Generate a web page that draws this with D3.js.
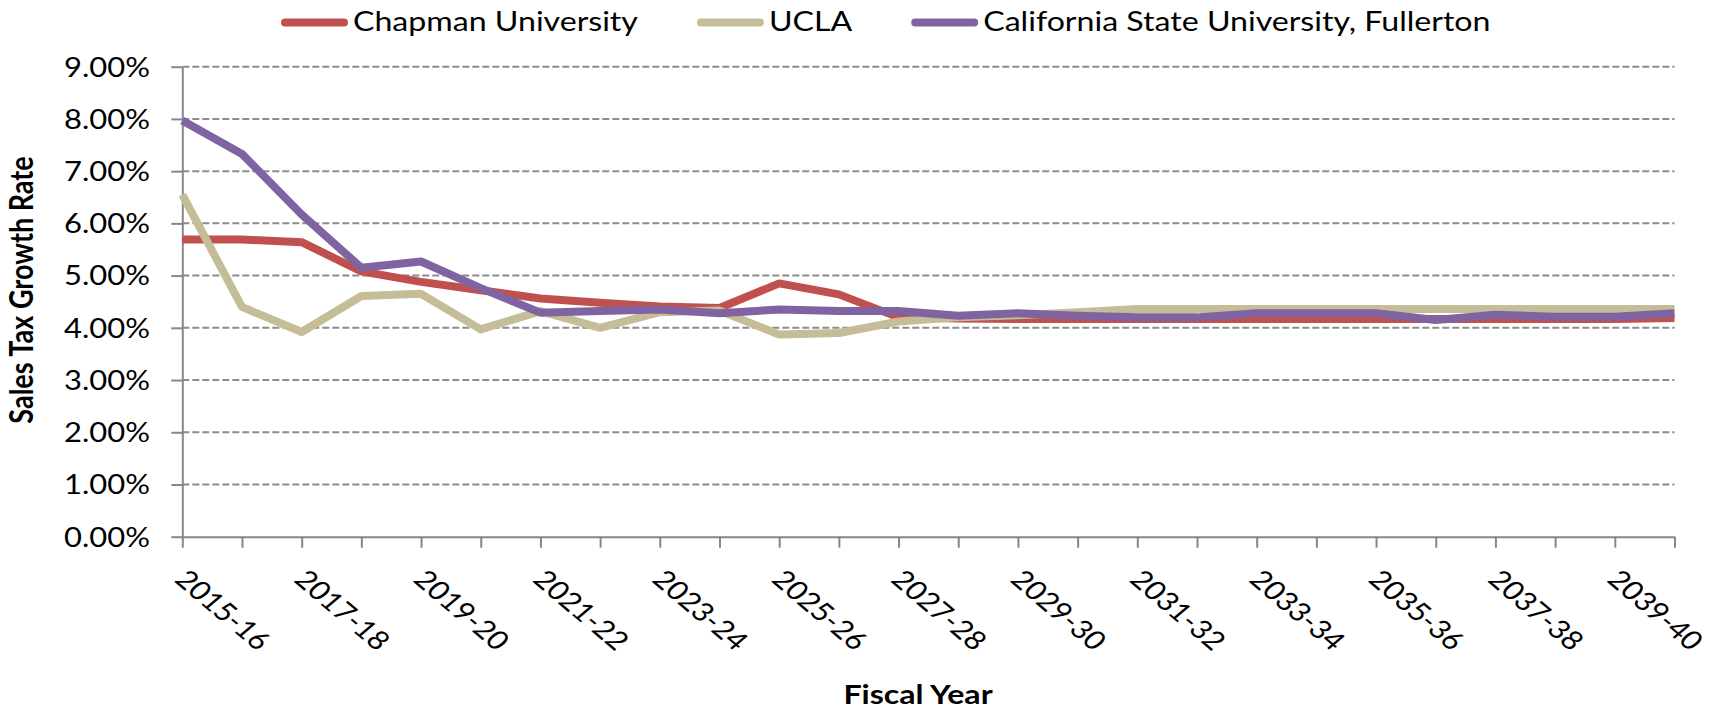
<!DOCTYPE html>
<html><head><meta charset="utf-8">
<script src="https://cdn.jsdelivr.net/npm/d3@7"></script>
<style>html,body{margin:0;padding:0;background:#fff;} svg{display:block;}</style>
</head><body>
<svg id="chart" width="1713" height="708"></svg>
<script>
const categories = ["2015-16","2016-17","2017-18","2018-19","2019-20","2020-21","2021-22","2022-23","2023-24","2024-25","2025-26","2026-27","2027-28","2028-29","2029-30","2030-31","2031-32","2032-33","2033-34","2034-35","2035-36","2036-37","2037-38","2038-39","2039-40","2040-41"];
const chapman = [5.69,5.69,5.64,5.08,4.88,4.72,4.56,4.48,4.41,4.38,4.85,4.64,4.20,4.18,4.17,4.17,4.17,4.17,4.17,4.17,4.17,4.17,4.17,4.17,4.17,4.19];
const ucla    = [6.55,4.40,3.92,4.61,4.65,3.97,4.32,4.00,4.30,4.33,3.87,3.90,4.12,4.20,4.24,4.30,4.36,4.36,4.36,4.36,4.36,4.36,4.36,4.36,4.36,4.36];
const csuf    = [7.97,7.33,6.17,5.15,5.27,4.76,4.29,4.32,4.35,4.28,4.35,4.32,4.32,4.23,4.28,4.23,4.20,4.20,4.28,4.28,4.28,4.15,4.25,4.21,4.21,4.28];
const seriesNames = ["Chapman University","UCLA","California State University, Fullerton"];
const seriesColors = ["#C0504D","#C4BD97","#8064A2"];
const yTickValues = [0,1,2,3,4,5,6,7,8,9];
const xTickLabels = ["2015-16","2017-18","2019-20","2021-22","2023-24","2025-26","2027-28","2029-30","2031-32","2033-34","2035-36","2037-38","2039-40"];

const plotL = 182.3, plotR = 1674.5, plotT = 66.7, plotB = 536.7;
const SX = 1.19;
const FONT = "Lato, 'Liberation Sans', sans-serif";
const AXIS = "#878787";

const svg = d3.select("#chart");
const x = d3.scalePoint().domain(categories).range([plotL, plotR]);
const y = d3.scaleLinear().domain([0, 9]).range([plotB, plotT]);

// gridlines
svg.append("g").selectAll("line").data(yTickValues.filter(v => v > 0)).join("line")
  .attr("x1", plotL).attr("x2", plotR)
  .attr("y1", d => y(d)).attr("y2", d => y(d))
  .attr("stroke", "#8c8c8c").attr("stroke-width", 2).attr("stroke-dasharray", "7,3");

// y axis
const gy = svg.append("g").attr("transform", `translate(${plotL},0)`)
  .call(d3.axisLeft(y).tickValues(yTickValues).tickSize(11).tickSizeOuter(0)
    .tickFormat(d => d.toFixed(2) + "%"));
gy.select(".domain").attr("stroke", AXIS).attr("stroke-width", 2);
gy.selectAll(".tick line").attr("stroke", AXIS).attr("stroke-width", 2);
gy.selectAll(".tick text")
  .attr("x", null).attr("dy", "0.36em")
  .attr("transform", `translate(${150 - plotL},0) scale(${SX},1)`)
  .attr("text-anchor", "end")
  .attr("fill", "#000").style("font-family", FONT).style("font-size", "26px");

// x axis
const gx = svg.append("g").attr("transform", `translate(0,${plotB})`)
  .call(d3.axisBottom(x).tickSize(11).tickSizeOuter(0)
    .tickFormat(d => xTickLabels.includes(d) ? d : ""));
gx.select(".domain").attr("stroke", AXIS).attr("stroke-width", 2);
gx.selectAll(".tick line").attr("stroke", AXIS).attr("stroke-width", 2);
gx.selectAll(".tick text")
  .attr("y", null).attr("dy", "0.36em")
  .attr("transform", `translate(-1.6,${574.5 - plotB}) scale(${SX},1) rotate(45)`)
  .attr("text-anchor", "start")
  .attr("fill", "#000").style("font-family", FONT).style("font-size", "26px");

// lines
const seriesData = [chapman, ucla, csuf];
const line = d3.line().x((d, i) => x(categories[i])).y(d => y(d));
svg.append("g").selectAll("path").data(seriesData).join("path")
  .attr("d", d => line(d))
  .attr("fill", "none")
  .attr("stroke", (d, i) => seriesColors[i])
  .attr("stroke-width", 8)
  .attr("stroke-linejoin", "round");

// legend
const leg = svg.append("g");
let lx = 281;
seriesNames.forEach((name, i) => {
  leg.append("line").attr("x1", lx + 4).attr("x2", lx + 63).attr("y1", 22.5).attr("y2", 22.5)
    .attr("stroke", seriesColors[i]).attr("stroke-width", 8).attr("stroke-linecap", "round");
  const t = leg.append("text").text(name)
    .attr("transform", `translate(${lx + 72},31) scale(${SX},1)`)
    .attr("fill", "#000").style("font-family", FONT).style("font-size", "27px");
  const w = t.node().getComputedTextLength() * SX;
  lx = lx + 72 + w + 59;
});

// axis titles
svg.append("text").text("Fiscal Year")
  .attr("transform", `translate(918,704) scale(${SX},1)`)
  .attr("text-anchor", "middle").attr("fill", "#000")
  .style("font-family", FONT).style("font-size", "27px").style("font-weight", "bold");
svg.append("text").text("Sales Tax Growth Rate")
  .attr("transform", `translate(33,290) scale(${SX},1) rotate(-90)`)
  .attr("text-anchor", "middle").attr("fill", "#000")
  .style("font-family", FONT).style("font-size", "27px").style("font-weight", "bold");
</script>
</body></html>
